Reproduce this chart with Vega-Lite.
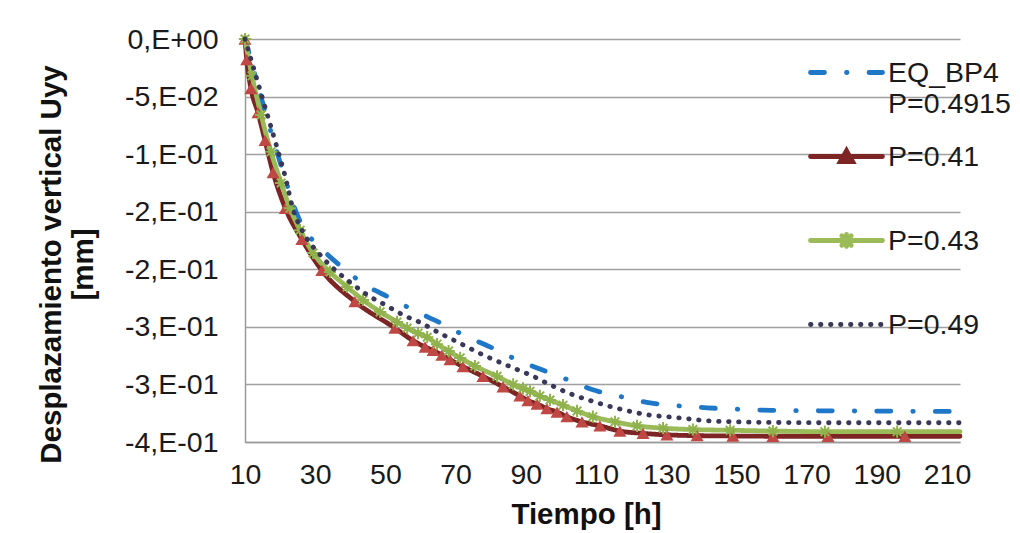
{
  "$schema": "https://vega.github.io/schema/vega-lite/v6.json",
  "width": 715,
  "height": 403,
  "autosize": {"type": "none"},
  "padding": {"left": 245, "top": 39, "right": 60, "bottom": 91},
  "background": "white",
  "config": {
    "view": {"stroke": null},
    "font": "Liberation Sans"
  },
  "data": {
    "values": [
      {"s": "EQ_BP4", "t": 10, "u": 0},
      {"s": "EQ_BP4", "t": 13, "u": -0.033},
      {"s": "EQ_BP4", "t": 16, "u": -0.066},
      {"s": "EQ_BP4", "t": 19, "u": -0.097},
      {"s": "EQ_BP4", "t": 22, "u": -0.127},
      {"s": "EQ_BP4", "t": 24, "u": -0.146},
      {"s": "EQ_BP4", "t": 26.5, "u": -0.163},
      {"s": "EQ_BP4", "t": 31.9, "u": -0.1823},
      {"s": "EQ_BP4", "t": 37.9, "u": -0.1988},
      {"s": "EQ_BP4", "t": 44.2, "u": -0.2135},
      {"s": "EQ_BP4", "t": 51.3, "u": -0.2248},
      {"s": "EQ_BP4", "t": 58.4, "u": -0.2361},
      {"s": "EQ_BP4", "t": 65.6, "u": -0.2465},
      {"s": "EQ_BP4", "t": 72.7, "u": -0.2578},
      {"s": "EQ_BP4", "t": 79.8, "u": -0.2674},
      {"s": "EQ_BP4", "t": 87, "u": -0.278},
      {"s": "EQ_BP4", "t": 94.6, "u": -0.2873},
      {"s": "EQ_BP4", "t": 102, "u": -0.296},
      {"s": "EQ_BP4", "t": 109.1, "u": -0.3047},
      {"s": "EQ_BP4", "t": 117.4, "u": -0.3108},
      {"s": "EQ_BP4", "t": 125.4, "u": -0.316},
      {"s": "EQ_BP4", "t": 133.4, "u": -0.3186},
      {"s": "EQ_BP4", "t": 141.6, "u": -0.3203},
      {"s": "EQ_BP4", "t": 150, "u": -0.3215},
      {"s": "EQ_BP4", "t": 160, "u": -0.3225},
      {"s": "EQ_BP4", "t": 180, "u": -0.323},
      {"s": "EQ_BP4", "t": 213.7, "u": -0.3235},

      {"s": "P=0.41", "t": 10, "u": 0},
      {"s": "P=0.41", "t": 10.5, "u": -0.018},
      {"s": "P=0.41", "t": 11.7, "u": -0.043},
      {"s": "P=0.41", "t": 13.7, "u": -0.064},
      {"s": "P=0.41", "t": 15.7, "u": -0.088},
      {"s": "P=0.41", "t": 18, "u": -0.116},
      {"s": "P=0.41", "t": 21.5, "u": -0.147},
      {"s": "P=0.41", "t": 26.2, "u": -0.174},
      {"s": "P=0.41", "t": 31.9, "u": -0.201},
      {"s": "P=0.41", "t": 41.3, "u": -0.228},
      {"s": "P=0.41", "t": 52.7, "u": -0.251},
      {"s": "P=0.41", "t": 57.9, "u": -0.262},
      {"s": "P=0.41", "t": 61.3, "u": -0.2675},
      {"s": "P=0.41", "t": 63.6, "u": -0.2705},
      {"s": "P=0.41", "t": 66.1, "u": -0.2745},
      {"s": "P=0.41", "t": 68.4, "u": -0.2785},
      {"s": "P=0.41", "t": 72.1, "u": -0.2845},
      {"s": "P=0.41", "t": 77.8, "u": -0.293},
      {"s": "P=0.41", "t": 83.5, "u": -0.302},
      {"s": "P=0.41", "t": 88.3, "u": -0.31},
      {"s": "P=0.41", "t": 90.6, "u": -0.314},
      {"s": "P=0.41", "t": 93.2, "u": -0.317},
      {"s": "P=0.41", "t": 96, "u": -0.321},
      {"s": "P=0.41", "t": 98.9, "u": -0.324},
      {"s": "P=0.41", "t": 101.7, "u": -0.328},
      {"s": "P=0.41", "t": 106, "u": -0.3325},
      {"s": "P=0.41", "t": 111.1, "u": -0.336},
      {"s": "P=0.41", "t": 116.8, "u": -0.3405},
      {"s": "P=0.41", "t": 123.4, "u": -0.3425},
      {"s": "P=0.41", "t": 130.2, "u": -0.3438},
      {"s": "P=0.41", "t": 138.8, "u": -0.3445},
      {"s": "P=0.41", "t": 149, "u": -0.3448},
      {"s": "P=0.41", "t": 160.4, "u": -0.345},
      {"s": "P=0.41", "t": 176.1, "u": -0.345},
      {"s": "P=0.41", "t": 198, "u": -0.345},
      {"s": "P=0.41", "t": 213.7, "u": -0.345},

      {"s": "P=0.43", "t": 10, "u": 0},
      {"s": "P=0.43", "t": 12, "u": -0.032},
      {"s": "P=0.43", "t": 14.6, "u": -0.066},
      {"s": "P=0.43", "t": 17.4, "u": -0.098},
      {"s": "P=0.43", "t": 20.3, "u": -0.125},
      {"s": "P=0.43", "t": 22.8, "u": -0.147},
      {"s": "P=0.43", "t": 25.7, "u": -0.166},
      {"s": "P=0.43", "t": 29.4, "u": -0.1858},
      {"s": "P=0.43", "t": 34.2, "u": -0.2023},
      {"s": "P=0.43", "t": 39.1, "u": -0.2153},
      {"s": "P=0.43", "t": 43.6, "u": -0.2266},
      {"s": "P=0.43", "t": 48.5, "u": -0.237},
      {"s": "P=0.43", "t": 53.3, "u": -0.2457},
      {"s": "P=0.43", "t": 56.2, "u": -0.251},
      {"s": "P=0.43", "t": 59.3, "u": -0.2555},
      {"s": "P=0.43", "t": 61.9, "u": -0.259},
      {"s": "P=0.43", "t": 64.7, "u": -0.265},
      {"s": "P=0.43", "t": 68, "u": -0.271},
      {"s": "P=0.43", "t": 71.3, "u": -0.277},
      {"s": "P=0.43", "t": 75.5, "u": -0.284},
      {"s": "P=0.43", "t": 81.8, "u": -0.293},
      {"s": "P=0.43", "t": 86.4, "u": -0.3},
      {"s": "P=0.43", "t": 89.2, "u": -0.3035},
      {"s": "P=0.43", "t": 91.2, "u": -0.306},
      {"s": "P=0.43", "t": 94, "u": -0.31},
      {"s": "P=0.43", "t": 96.9, "u": -0.3135},
      {"s": "P=0.43", "t": 100.6, "u": -0.318},
      {"s": "P=0.43", "t": 104.6, "u": -0.323},
      {"s": "P=0.43", "t": 109.1, "u": -0.328},
      {"s": "P=0.43", "t": 115.4, "u": -0.3325},
      {"s": "P=0.43", "t": 121.7, "u": -0.336},
      {"s": "P=0.43", "t": 129.1, "u": -0.338},
      {"s": "P=0.43", "t": 137.6, "u": -0.3392},
      {"s": "P=0.43", "t": 148.2, "u": -0.3398},
      {"s": "P=0.43", "t": 160.4, "u": -0.3405},
      {"s": "P=0.43", "t": 175.2, "u": -0.341},
      {"s": "P=0.43", "t": 195.8, "u": -0.341},
      {"s": "P=0.43", "t": 213.7, "u": -0.341},

      {"s": "P=0.49", "t": 10, "u": 0},
      {"s": "P=0.49", "t": 13, "u": -0.031},
      {"s": "P=0.49", "t": 16, "u": -0.062},
      {"s": "P=0.49", "t": 19, "u": -0.093},
      {"s": "P=0.49", "t": 21.5, "u": -0.12},
      {"s": "P=0.49", "t": 23.7, "u": -0.148},
      {"s": "P=0.49", "t": 26.5, "u": -0.1675},
      {"s": "P=0.49", "t": 31.4, "u": -0.1875},
      {"s": "P=0.49", "t": 35.6, "u": -0.2005},
      {"s": "P=0.49", "t": 40.2, "u": -0.2118},
      {"s": "P=0.49", "t": 44.8, "u": -0.2222},
      {"s": "P=0.49", "t": 49.9, "u": -0.2309},
      {"s": "P=0.49", "t": 55, "u": -0.2396},
      {"s": "P=0.49", "t": 60.1, "u": -0.2465},
      {"s": "P=0.49", "t": 65.3, "u": -0.2552},
      {"s": "P=0.49", "t": 70.4, "u": -0.263},
      {"s": "P=0.49", "t": 78.4, "u": -0.2752},
      {"s": "P=0.49", "t": 86.4, "u": -0.2856},
      {"s": "P=0.49", "t": 91.8, "u": -0.2925},
      {"s": "P=0.49", "t": 96.9, "u": -0.3003},
      {"s": "P=0.49", "t": 102, "u": -0.3073},
      {"s": "P=0.49", "t": 107.7, "u": -0.3134},
      {"s": "P=0.49", "t": 113.4, "u": -0.3186},
      {"s": "P=0.49", "t": 119.1, "u": -0.323},
      {"s": "P=0.49", "t": 124.8, "u": -0.3264},
      {"s": "P=0.49", "t": 130.5, "u": -0.3281},
      {"s": "P=0.49", "t": 136.2, "u": -0.3299},
      {"s": "P=0.49", "t": 141.9, "u": -0.3316},
      {"s": "P=0.49", "t": 150, "u": -0.3325},
      {"s": "P=0.49", "t": 160, "u": -0.333},
      {"s": "P=0.49", "t": 180, "u": -0.3333},
      {"s": "P=0.49", "t": 213.7, "u": -0.3333}
    ]
  },
  "encoding": {
    "x": {
      "field": "t",
      "type": "quantitative",
      "scale": {"domain": [10, 213.7], "nice": false, "zero": false},
      "axis": {
        "values": [10, 30, 50, 70, 90, 110, 130, 150, 170, 190, 210],
        "title": "Tiempo [h]",
        "grid": false,
        "ticks": false,
        "domainColor": "#9a9a9a",
        "domainWidth": 1.5,
        "labelFont": "Liberation Sans",
        "labelFontSize": 28.5,
        "labelColor": "#1a1a1a",
        "labelPadding": 18,
        "labelFlush": false,
        "labelOverlap": false,
        "titleFont": "Liberation Sans",
        "titleFontSize": 29.5,
        "titleFontWeight": "bold",
        "titleColor": "#111111",
        "titleX": 341,
        "titleY": 81,
        "titleBaseline": "alphabetic"
      }
    },
    "y": {
      "field": "u",
      "type": "quantitative",
      "scale": {"domain": [-0.35, 0], "nice": false, "zero": false},
      "axis": {
        "values": [0, -0.05, -0.1, -0.15, -0.2, -0.25, -0.3, -0.35],
        "labelExpr": "datum.value > -0.01 ? '0,E+00' : datum.value > -0.06 ? '-5,E-02' : datum.value > -0.11 ? '-1,E-01' : datum.value > -0.21 ? '-2,E-01' : datum.value > -0.31 ? '-3,E-01' : '-4,E-01'",
        "title": ["Desplazamiento vertical Uyy", "[mm]"],
        "grid": true,
        "gridColor": "#a0a0a0",
        "gridWidth": 1.3,
        "ticks": false,
        "domainColor": "#9a9a9a",
        "domainWidth": 1.5,
        "labelFont": "Liberation Sans",
        "labelFontSize": 28.5,
        "labelColor": "#1a1a1a",
        "labelPadding": 27,
        "labelOverlap": false,
        "titleFont": "Liberation Sans",
        "titleFontSize": 29.5,
        "titleFontWeight": "bold",
        "titleColor": "#111111",
        "titleAngle": -90,
        "titleAlign": "center",
        "titleBaseline": "top",
        "titleLineHeight": 32,
        "titleX": -208,
        "titleY": 225
      }
    }
  },
  "layer": [
    {
      "transform": [{"filter": "datum.s !== 'P=0.49'"}],
      "mark": {"type": "line", "interpolate": "monotone", "strokeWidth": 4.8, "strokeCap": "round", "strokeJoin": "round"},
      "encoding": {
        "color": {
          "field": "s",
          "type": "nominal",
          "scale": {
            "domain": ["EQ_BP4", "P=0.41", "P=0.43", "P=0.49"],
            "range": ["#1f77c8", "#7d2424", "#9bbb59", "#3a3858"]
          },
          "legend": {
            "orient": "none",
            "legendX": 563,
            "legendY": -5,
            "title": null,
            "symbolType": "stroke",
            "symbolSize": 5184,
            "symbolStrokeWidth": 4.8,
            "labelFont": "Liberation Sans",
            "labelFontSize": 28.5,
            "labelColor": "#1a1a1a",
            "labelOffset": 3,
            "labelLimit": 400,
            "rowPadding": 0,
            "padding": 0,
            "encode": {
              "symbols": {
                "update": {
                  "shape": {"signal": "datum.value === 'P=0.41' ? 'M-1,0H1M-0.17,0.14L0,-0.16L0.17,0.14Z' : datum.value === 'P=0.43' ? 'M-1,0H1M-0.13,-0.13L0.13,0.13M-0.13,0.13L0.13,-0.13M0,-0.17V0.17' : 'stroke'"},
                  "fill": {"signal": "datum.value === 'P=0.41' ? '#8b2525' : 'transparent'"},
                  "strokeCap": {"value": "round"}
                }
              },
              "labels": {
                "update": {
                  "text": {"signal": "datum.value === 'EQ_BP4' ? ['EQ_BP4', 'P=0.4915'] : [datum.label, '']"},
                  "lineHeight": {"value": 31}
                }
              }
            }
          }
        },
        "strokeDash": {
          "field": "s",
          "type": "nominal",
          "scale": {
            "domain": ["EQ_BP4", "P=0.41", "P=0.43", "P=0.49"],
            "range": [[14, 22, 0.5, 22], [1, 0], [1, 0], [0.5, 9.5]]
          }
        }
      }
    },
    {
      "transform": [{"filter": "datum.s === 'P=0.41' && datum.t < 213"}],
      "mark": {"type": "point", "shape": "triangle-up", "filled": true, "color": "#bf4744", "opacity": 1, "size": 170},
      "encoding": {}
    },
    {
      "transform": [{"filter": "datum.s === 'P=0.43' && datum.t < 213"}],
      "mark": {"type": "point", "shape": "M-1,0H1M-0.7,-0.7L0.7,0.7M-0.7,0.7L0.7,-0.7M0,-1V1", "filled": false, "stroke": "#8fb24c", "strokeWidth": 2, "opacity": 1, "size": 150},
      "encoding": {}
    },
    {
      "transform": [{"filter": "datum.s === 'P=0.49'"}],
      "mark": {"type": "line", "interpolate": "monotone", "strokeWidth": 4.8, "strokeCap": "round", "strokeJoin": "round"},
      "encoding": {
        "color": {"field": "s", "type": "nominal"},
        "strokeDash": {"field": "s", "type": "nominal"}
      }
    }
  ]
}
